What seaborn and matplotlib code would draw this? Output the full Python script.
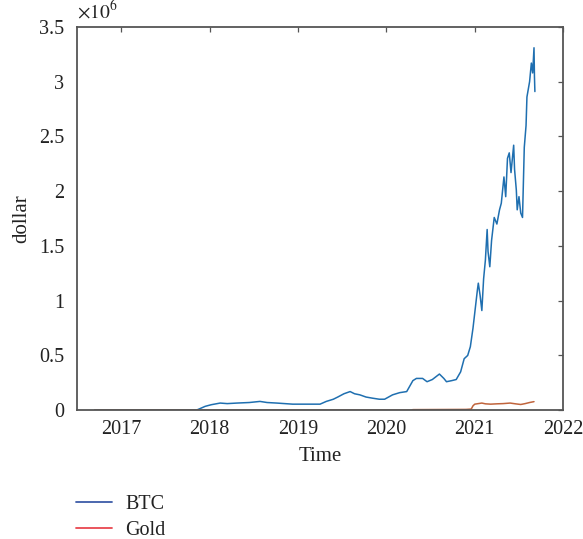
import matplotlib
matplotlib.use("Agg")
import matplotlib.pyplot as plt
from matplotlib.lines import Line2D
import seaborn as sns
import pandas as pd

# Portfolio value over time (decimal years, dollars)
btc_t = [2016.70, 2017.85, 2017.88, 2017.95, 2018.02, 2018.12, 2018.20, 2018.31, 2018.45,
         2018.57, 2018.65, 2018.76, 2018.94, 2019.10, 2019.25, 2019.32, 2019.40, 2019.45,
         2019.52, 2019.59, 2019.64, 2019.70, 2019.77, 2019.84, 2019.92, 2019.98, 2020.07,
         2020.15, 2020.23, 2020.30, 2020.34, 2020.41, 2020.46, 2020.52, 2020.60, 2020.65,
         2020.68, 2020.74, 2020.79, 2020.84, 2020.88, 2020.92, 2020.95, 2020.98, 2021.00,
         2021.03, 2021.04, 2021.06, 2021.08, 2021.10, 2021.12, 2021.14, 2021.15, 2021.17,
         2021.19, 2021.22, 2021.25, 2021.28, 2021.30, 2021.33, 2021.35, 2021.37, 2021.39,
         2021.41, 2021.44, 2021.45, 2021.47, 2021.48, 2021.50, 2021.52, 2021.54, 2021.56,
         2021.58, 2021.59, 2021.62, 2021.64, 2021.655, 2021.67, 2021.675, 2021.68]
btc_v = [0, 0, 10000, 35000, 50000, 65000, 60000, 65000, 70000,
         80000, 70000, 65000, 55000, 55000, 55000, 80000, 100000, 120000,
         150000, 170000, 150000, 140000, 120000, 110000, 100000, 100000, 140000,
         160000, 170000, 270000, 290000, 290000, 260000, 280000, 330000, 290000,
         260000, 270000, 280000, 350000, 470000, 500000, 580000, 750000, 890000,
         1100000, 1160000, 1050000, 910000, 1200000, 1370000, 1650000, 1450000, 1310000,
         1550000, 1760000, 1700000, 1830000, 1890000, 2130000, 1950000, 2300000, 2350000,
         2170000, 2420000, 2200000, 2010000, 1830000, 1950000, 1800000, 1760000, 2400000,
         2600000, 2860000, 3000000, 3170000, 3080000, 3310000, 3050000, 2910000]

gold_t = [2016.70, 2020.28, 2020.30, 2020.60, 2020.90, 2020.96, 2020.98, 2021.00, 2021.04,
          2021.08, 2021.12, 2021.18, 2021.25, 2021.32, 2021.40, 2021.46, 2021.52, 2021.57,
          2021.62, 2021.67]
gold_v = [0, 0, 5000, 6000, 7000, 10000, 40000, 55000, 60000,
          65000, 58000, 55000, 58000, 60000, 65000, 58000, 52000, 60000,
          70000, 78000]

series_names = ["BTC", "Gold"]
year_ticks = [2017, 2018, 2019, 2020, 2021, 2022]
value_ticks = [0, 0.5e6, 1e6, 1.5e6, 2e6, 2.5e6, 3e6, 3.5e6]
value_labels = ["0", "0.5", "1", "1.5", "2", "2.5", "3", "3.5"]

sns.set_style("white")
plt.rcParams["font.family"] = ["Liberation Serif", "DejaVu Serif"]
plt.rcParams["mathtext.fontset"] = "stix"

line_colors = {"BTC": "#1f6fb0", "Gold": "#c0643c"}
legend_colors = {"BTC": "#3d5ca8", "Gold": "#e8474f"}
text_color = "#222222"

btc_df = pd.DataFrame({"Time": btc_t, "dollar": btc_v})
gold_df = pd.DataFrame({"Time": gold_t, "dollar": gold_v})

fig = plt.figure(figsize=(5.83, 5.39), dpi=100)
ax = fig.add_axes([0.132, 0.239, 0.834, 0.711])

sns.lineplot(data=btc_df, x="Time", y="dollar", ax=ax, color=line_colors["BTC"],
             linewidth=1.1, legend=False)
sns.lineplot(data=gold_df, x="Time", y="dollar", ax=ax, color=line_colors["Gold"],
             linewidth=1.1, legend=False)

ax.set_xlim(2016.5, 2022)
ax.set_ylim(0, 3.5e6)
ax.set_xticks(year_ticks)
ax.set_xticklabels([str(y) for y in year_ticks])
ax.set_yticks(value_ticks)
ax.set_yticklabels(value_labels)

frame_color = "#555555"
for side in ["left", "right", "top", "bottom"]:
    ax.spines[side].set_visible(True)
    ax.spines[side].set_color(frame_color)
    ax.spines[side].set_linewidth(1.3)
ax.tick_params(axis="both", direction="in", length=3.5, width=0.9, color=frame_color,
               labelsize=14.5, labelcolor=text_color, top=True, right=True)
ax.tick_params(axis="x", pad=7)
ax.tick_params(axis="y", pad=9)

ax.set_xlabel("Time", fontsize=15, color=text_color, labelpad=6)
ax.set_ylabel("dollar", fontsize=15, color=text_color, labelpad=6)

ax.text(0.0, 1.012, r"$\times10^{6}$", transform=ax.transAxes, fontsize=14,
        color=text_color, ha="left", va="bottom")

handles = [Line2D([0], [0], color=legend_colors[n], linewidth=1.3) for n in series_names]
fig.legend(handles, series_names, loc="upper left", bbox_to_anchor=(0.117, 0.097),
           frameon=False, fontsize=14.5, handlelength=1.75, handletextpad=0.7,
           labelspacing=0.35, borderaxespad=0, labelcolor=text_color)

fig.savefig("out.png", dpi=100, facecolor="white")
